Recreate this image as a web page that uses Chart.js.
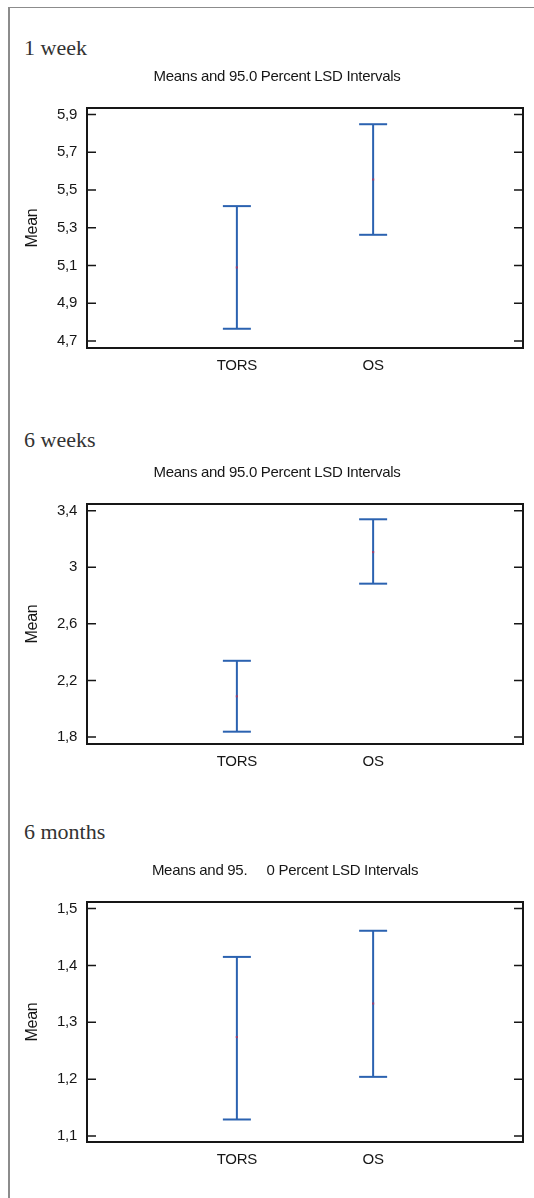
<!DOCTYPE html>
<html>
<head>
<meta charset="utf-8">
<script src="https://cdn.jsdelivr.net/npm/chart.js@4.4.1/dist/chart.umd.min.js"></script>
<style>
  html, body { margin: 0; padding: 0; background: #fff; overflow: hidden; }
  body { width: 534px; height: 1198px; position: relative; }
  .frame { position: absolute; left: 8px; top: 7px; width: 540px; height: 1200px;
           border-left: 2px solid #8c8c8c; border-top: 1px solid #8c8c8c; }
  .period { position: absolute; left: 24px; font: 22px/22px "Liberation Serif", "Times New Roman", serif; color: #333; }
  canvas { position: absolute; left: 10px; }
</style>
</head>
<body>
<div class="frame"></div>
<div class="period" style="top:37px">1 week</div>
<canvas id="week1" width="524" height="330" style="top:58px"></canvas>
<div class="period" style="top:429px">6 weeks</div>
<canvas id="week6" width="524" height="330" style="top:454px"></canvas>
<div class="period" style="top:821px">6 months</div>
<canvas id="month6" width="524" height="330" style="top:852px"></canvas>
<script>
const groups = ['TORS', 'OS'];
const groupX = [1, 2];

// means with lower / upper LSD limits, per group
const week1Mean = [5.09, 5.556];
const week1Low = [4.765, 5.263];
const week1High = [5.415, 5.849];
const week1Ticks = [4.7, 4.9, 5.1, 5.3, 5.5, 5.7, 5.9];

const week6Mean = [2.088, 3.107];
const week6Low = [1.838, 2.884];
const week6High = [2.339, 3.339];
const week6Ticks = [1.8, 2.2, 2.6, 3, 3.4];

const month6Mean = [1.274, 1.333];
const month6Low = [1.129, 1.204];
const month6High = [1.415, 1.461];
const month6Ticks = [1.1, 1.2, 1.3, 1.4, 1.5];

const BLUE = '#2b62b0';
const INK = '#161616';

Chart.defaults.font.family = '"Liberation Sans", Arial, sans-serif';

// box around the plot plus inward ticks on both sides
const frameTicks = {
    id: 'frameTicks',
    beforeDraw(chart) {
        chart.ctx.letterSpacing = '-0.3px';
    },
    afterDraw(chart) {
        const { ctx, chartArea: a, scales: { y } } = chart;
        ctx.save();
        ctx.strokeStyle = INK;
        ctx.lineWidth = 1.5;
        y.ticks.forEach(t => {
            const py = y.getPixelForValue(t.value);
            ctx.beginPath();
            ctx.moveTo(a.left, py); ctx.lineTo(a.left + 9, py);
            ctx.moveTo(a.right - 9, py); ctx.lineTo(a.right, py);
            ctx.stroke();
        });
        ctx.lineWidth = 2;
        ctx.strokeRect(a.left, a.top, a.right - a.left, a.bottom - a.top);
        ctx.restore();
    }
};

function drawPanel(id, title, titleCenter, mean, low, high, yMin, yMax, yTicks) {
    // plot spans 77..513 inside the canvas; title is centred on titleCenter
    const padLeft = 2 * titleCenter - 513;
    const axisWidth = 77 - padLeft;

    const whiskers = groupX.map((x, i) => ({
        data: [{ x: x, y: low[i] }, { x: x, y: high[i] }],
        showLine: true,
        borderColor: BLUE,
        borderWidth: 2,
        pointRadius: 0
    }));

    new Chart(document.getElementById(id), {
        type: 'scatter',
        data: {
            datasets: [
                // mean dot first so it sits on top of the whisker
                {
                    data: groupX.map((x, i) => ({ x: x, y: mean[i] })),
                    pointStyle: 'rect',
                    pointRadius: 1.5,
                    pointBackgroundColor: '#9a4070',
                    pointBorderWidth: 0
                },
                {
                    data: groupX.flatMap((x, i) => [{ x: x, y: low[i] }, { x: x, y: high[i] }]),
                    pointStyle: 'line',
                    pointRadius: 14,
                    pointBorderColor: BLUE,
                    pointBorderWidth: 2
                },
                ...whiskers
            ]
        },
        options: {
            responsive: false,
            animation: false,
            events: [],
            layout: { autoPadding: false, padding: { left: padLeft, right: 11, top: 0, bottom: 0 } },
            plugins: {
                legend: { display: false },
                tooltip: { enabled: false },
                title: {
                    display: true,
                    text: title,
                    color: INK,
                    font: { size: 15, weight: 'normal' },
                    padding: { top: 10, bottom: 22 }
                }
            },
            scales: {
                x: {
                    type: 'linear',
                    min: -0.1,
                    max: 3.1,
                    grid: { display: false, drawTicks: false },
                    border: { display: false },
                    afterBuildTicks: s => { s.ticks = groupX.map(v => ({ value: v })); },
                    afterFit: s => { s.height = 40; },
                    ticks: {
                        callback: v => groups[groupX.indexOf(v)],
                        color: INK,
                        font: { size: 15 },
                        padding: 9,
                        maxRotation: 0,
                        autoSkip: false
                    }
                },
                y: {
                    min: yMin,
                    max: yMax,
                    grid: { display: false, drawTicks: false },
                    border: { display: false },
                    afterBuildTicks: s => { s.ticks = yTicks.map(v => ({ value: v })); },
                    afterFit: s => { s.width = axisWidth; },
                    ticks: {
                        callback: v => String(v).replace('.', ','),
                        color: INK,
                        font: { size: 15 },
                        padding: 10
                    },
                    title: {
                        display: true,
                        text: 'Mean',
                        color: INK,
                        font: { size: 16 },
                        padding: { top: 22.5 - padLeft - 9.6, bottom: 0 }
                    }
                }
            }
        },
        plugins: [frameTicks]
    });
}

drawPanel('week1', 'Means and 95.0 Percent LSD Intervals', 267,
    week1Mean, week1Low, week1High, 4.663, 5.935, week1Ticks);
drawPanel('week6', 'Means and 95.0 Percent LSD Intervals', 267,
    week6Mean, week6Low, week6High, 1.751, 3.447, week6Ticks);
drawPanel('month6', 'Means and 95.     0 Percent LSD Intervals', 275,
    month6Mean, month6Low, month6High, 1.0894, 1.5116, month6Ticks);
</script>
</body>
</html>
